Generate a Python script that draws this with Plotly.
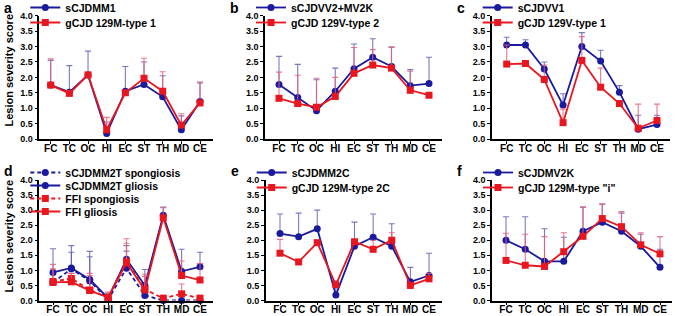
import plotly.graph_objects as go

regions = ["FC", "TC", "OC", "HI", "EC", "ST", "TH", "MD", "CE"]

# Panel a
a_blue_name = "sCJDMM1"
a_blue = [1.75, 1.52, 2.08, 0.18, 1.55, 1.77, 1.37, 0.30, 1.22]
a_blue_err = [0.80, 0.86, 0.77, 0.37, 0.80, 0.73, 0.68, 0.45, 0.60]
a_red_name = "gCJD 129M-type 1"
a_red = [1.75, 1.48, 2.08, 0.30, 1.50, 1.97, 1.55, 0.45, 1.17]
a_red_err = [0.85, 0.0, 0.0, 0.40, 0.0, 0.65, 0.63, 0.37, 0.68]

# Panel b
b_blue_name = "sCJDVV2+MV2K"
b_blue = [1.77, 1.35, 0.92, 1.55, 2.28, 2.65, 2.35, 1.73, 1.80]
b_blue_err = [0.91, 1.07, 1.00, 0.75, 0.80, 0.60, 0.63, 0.52, 0.85]
b_red_name = "gCJD 129V-type 2"
b_red = [1.32, 1.15, 1.03, 1.38, 2.13, 2.40, 2.30, 1.58, 1.42]
b_red_err = [0.85, 0.92, 0.94, 0.62, 0.84, 0.50, 0.68, 0.62, 0.0]

# Panel c
c_blue_name = "sCJDVV1"
c_blue = [3.05, 3.05, 2.27, 1.10, 3.00, 2.53, 1.52, 0.32, 0.47]
c_blue_err = [0.25, 0.17, 0.23, 0.37, 0.45, 0.35, 0.21, 0.45, 0.30]
c_red_name = "gCJD 129V-type 1"
c_red = [2.43, 2.45, 1.93, 0.53, 2.55, 1.68, 1.15, 0.35, 0.60]
c_red_err = [0.62, 0.0, 0.47, 0.44, 0.77, 0.62, 0.0, 0.78, 0.53]

# Panel d
d_bs_name = "sCJDMM2T spongiosis"
d_bs = [0.60, 1.05, 0.65, 0.03, 1.07, 0.17, 0.0, 0.0, 0.0]
d_bs_err = [0.27, 0.55, 0.80, 0.10, 0.57, 0.20, 0.0, 0.0, 0.0]
d_bg_name = "sCJDMM2T gliosis"
d_bg = [0.93, 1.08, 0.70, 0.08, 1.37, 0.50, 2.83, 0.97, 1.12]
d_bg_err = [0.79, 0.74, 0.93, 0.15, 0.45, 0.53, 0.27, 0.73, 0.48]
d_rs_name = "FFI spongiosis"
d_rs = [0.63, 0.73, 0.35, 0.10, 1.30, 0.37, 0.07, 0.22, 0.07]
d_rs_err = [0.57, 0.17, 0.55, 0.15, 0.75, 0.50, 0.11, 0.33, 0.11]
d_rg_name = "FFI gliosis"
d_rg = [0.60, 0.62, 0.33, 0.10, 1.25, 0.35, 2.75, 0.83, 0.68]
d_rg_err = [0.45, 0.28, 0.50, 0.18, 0.65, 0.45, 0.33, 0.48, 0.55]

# Panel e
e_blue_name = "sCJDMM2C"
e_blue = [2.22, 2.12, 2.38, 0.18, 1.80, 2.10, 1.80, 0.62, 0.83]
e_blue_err = [0.65, 0.78, 0.62, 0.30, 0.80, 0.77, 0.75, 0.48, 0.74]
e_red_name = "gCJD 129M-type 2C"
e_red = [1.57, 1.28, 1.92, 0.52, 1.95, 1.70, 2.00, 0.50, 0.72]
e_red_err = [0.46, 0.0, 0.0, 0.13, 0.0, 0.30, 0.25, 0.0, 0.18]

# Panel f
f_blue_name = "sCJDMV2K"
f_blue = [2.00, 1.70, 1.30, 1.30, 2.30, 2.60, 2.30, 1.80, 1.10]
f_blue_err = [0.78, 1.08, 1.08, 0.80, 0.80, 0.60, 0.60, 0.40, 0.60]
f_red_name = 'gCJD 129M-type "i"'
f_red = [1.33, 1.17, 1.13, 1.62, 2.13, 2.72, 2.45, 1.85, 1.55]
f_red_err = [0.90, 1.03, 0.99, 0.63, 0.97, 0.48, 0.50, 0.40, 0.57]

W, H = 676, 316
BLUE = "#1a1a9e"
RED = "#e8161f"
BLUE_ERR = "rgba(95,95,185,0.85)"
RED_ERR = "rgba(230,95,125,0.85)"
FONT = "Liberation Sans, Arial, sans-serif"

fig = go.Figure()

# panel layout: (x_left_px, x_right_px, FC_px, CE_px, y_top_px(4.0), y_bottom_px(0))
panels = [
    (39.3, 213, 50.7, 200.0, 15.7, 139.0),
    (265.0, 442, 279.0, 429.0, 15.7, 139.0),
    (491.7, 670, 506.7, 657.0, 15.7, 139.0),
    (39.3, 213, 53.0, 200.0, 180.0, 300.5),
    (265.7, 442, 280.0, 429.0, 180.0, 300.5),
    (492.0, 672, 506.0, 660.0, 180.0, 300.5),
]

series = [
    [(a_blue_name, a_blue, a_blue_err, "b", "solid"), (a_red_name, a_red, a_red_err, "r", "solid")],
    [(b_blue_name, b_blue, b_blue_err, "b", "solid"), (b_red_name, b_red, b_red_err, "r", "solid")],
    [(c_blue_name, c_blue, c_blue_err, "b", "solid"), (c_red_name, c_red, c_red_err, "r", "solid")],
    [(d_bs_name, d_bs, d_bs_err, "b", "dash"), (d_bg_name, d_bg, d_bg_err, "b", "solid"),
     (d_rs_name, d_rs, d_rs_err, "r", "dash"), (d_rg_name, d_rg, d_rg_err, "r", "solid")],
    [(e_blue_name, e_blue, e_blue_err, "b", "solid"), (e_red_name, e_red, e_red_err, "r", "solid")],
    [(f_blue_name, f_blue, f_blue_err, "b", "solid"), (f_red_name, f_red, f_red_err, "r", "solid")],
]

letters = ["a", "b", "c", "d", "e", "f"]
legend_n = 0
layout_extra = {}
annotations = []

for i, (xl, xr, fc, ce, yt, yb) in enumerate(panels):
    k = "" if i == 0 else str(i + 1)
    step = (ce - fc) / 8.0
    r0 = -(fc - xl) / step
    r1 = 8 + (xr - ce) / step
    layout_extra["xaxis" + k] = dict(
        domain=[xl / W, xr / W], anchor="y" + k, type="category",
        categoryorder="array", categoryarray=regions, range=[r0, r1],
        showgrid=False, zeroline=False, showline=True, linecolor="black", linewidth=1.5,
        ticks="outside", ticklen=3, tickwidth=1.2, tickcolor="black",
        ticklabelstandoff=-4,
        tickfont=dict(family=FONT, size=10, color="black", weight="bold"),
    )
    layout_extra["yaxis" + k] = dict(
        domain=[1 - yb / H, 1 - yt / H], anchor="x" + k, range=[0, 4],
        tickvals=[0, 0.5, 1, 1.5, 2, 2.5, 3, 3.5, 4],
        ticktext=["0.0", "0.5", "1.0", "1.5", "2.0", "2.5", "3.0", "3.5", "4.0"],
        showgrid=False, zeroline=False, showline=True, linecolor="black", linewidth=1.5,
        ticks="outside", ticklen=3, tickwidth=1.2, tickcolor="black",
        tickfont=dict(family=FONT, size=9, color="black", weight="bold"),
    )
    nser = len(series[i])
    spacing = 15 if nser == 2 else 13.0
    first_y = 7.5 if i < 3 else 172.5
    for j, (name, vals, errs, col, dash) in enumerate(series[i]):
        legend_n += 1
        lk = "legend" if legend_n == 1 else "legend" + str(legend_n)
        c = BLUE if col == "b" else RED
        ec = BLUE_ERR if col == "b" else RED_ERR
        fig.add_trace(go.Scatter(
            x=regions, y=vals, name=name, mode="lines+markers",
            xaxis="x" + k, yaxis="y" + k, legend=lk, cliponaxis=False,
            line=dict(color=c, width=1.8, dash=("4px,3px" if dash == "dash" else "solid")),
            marker=dict(color=c, size=7, symbol="circle" if col == "b" else "square"),
            error_y=dict(type="data", array=errs, arrayminus=[0] * len(errs), symmetric=False,
                         color=ec, thickness=1.1, width=3),
        ))
        ly = first_y + j * spacing
        layout_extra[lk] = dict(
            x=(xl - 14) / W, y=1 - ly / H, xanchor="left", yanchor="middle",
            bgcolor="rgba(0,0,0,0)", borderwidth=0,
            font=dict(family=FONT, size=10.5, color="black", weight="bold"),
            tracegroupgap=0,
        )
    annotations.append(dict(
        text="<b>%s</b>" % letters[i], x=(xl - 37) / W, y=1 - (8 if i < 3 else 171) / H,
        xref="paper", yref="paper", xanchor="left", yanchor="middle", showarrow=False,
        font=dict(family=FONT, size=14, color="black"),
    ))

for yc in (70, 236):
    annotations.append(dict(
        text="<b>Lesion severity score</b>", x=8.5 / W, y=1 - yc / H, xref="paper", yref="paper",
        xanchor="center", yanchor="middle", textangle=-90, showarrow=False,
        font=dict(family=FONT, size=11, color="black"),
    ))

fig.update_layout(
    width=W, height=H, margin=dict(l=0, r=0, t=0, b=0, autoexpand=False),
    paper_bgcolor="white", plot_bgcolor="white", showlegend=True,
    annotations=annotations, **layout_extra,
)

fig.write_html(
    "out.html",
    config={"displayModeBar": False},
    post_script="document.body.style.margin='0';document.body.style.overflow='hidden';",
)
